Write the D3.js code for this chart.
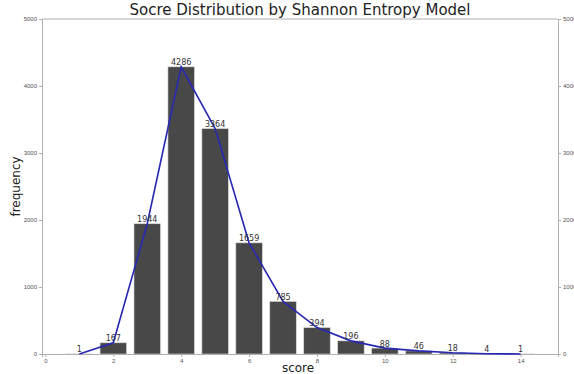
<!DOCTYPE html>
<html>
<head>
<meta charset="utf-8">
<script src="https://cdn.jsdelivr.net/npm/d3@7"></script>
<style>
  body { margin: 0; background: #fff; }
  svg { display: block; font-family: "DejaVu Sans", sans-serif; }
</style>
</head>
<body>
<div id="chart"></div>
<script>
// Data
const scores = [1, 2, 3, 4, 5, 6, 7, 8, 9, 10, 11, 12, 13, 14];
const frequencies = [1, 167, 1944, 4286, 3364, 1659, 785, 394, 196, 88, 46, 18, 4, 1];
const xTicks = [0, 2, 4, 6, 8, 10, 12, 14];
const yTicks = [0, 1000, 2000, 3000, 4000, 5000];

const width = 574, height = 374;
const margin = { top: 19, right: 16, bottom: 20, left: 42 };

const svg = d3.select('#chart')
  .append('svg')
  .attr('width', width)
  .attr('height', height);

const x = d3.scaleLinear()
  .domain([-0.1, 15.1])
  .range([margin.left, width - margin.right]);

const y = d3.scaleLinear()
  .domain([0, 5000])
  .range([height - margin.bottom, margin.top]);

const axisColor = '#b0b0b0';
const tickText = '#555';

// Bars
svg.append('g')
  .selectAll('rect')
  .data(scores)
  .enter().append('rect')
  .attr('x', (d) => x(d - 0.39))
  .attr('width', x(0.78) - x(0))
  .attr('y', (d, i) => y(frequencies[i]))
  .attr('height', (d, i) => y(0) - y(frequencies[i]))
  .attr('fill', '#484848')
  .attr('stroke', '#d8d8d8')
  .attr('stroke-width', 0.6);

// Axes
const bottomAxis = svg.append('g')
  .attr('transform', `translate(0,${y(0)})`)
  .call(d3.axisBottom(x).tickValues(xTicks).tickSize(3).tickPadding(2));

const leftAxis = svg.append('g')
  .attr('transform', `translate(${margin.left},0)`)
  .call(d3.axisLeft(y).tickValues(yTicks).tickSize(3).tickPadding(2).tickFormat(d3.format('d')));

const rightAxis = svg.append('g')
  .attr('transform', `translate(${width - margin.right},0)`)
  .call(d3.axisRight(y).tickValues(yTicks).tickSize(3).tickPadding(2).tickFormat(d3.format('d')));

// Top border
svg.append('line')
  .attr('x1', margin.left).attr('x2', width - margin.right)
  .attr('y1', margin.top).attr('y2', margin.top)
  .attr('stroke', axisColor);

[bottomAxis, leftAxis, rightAxis].forEach((g) => {
  g.select('.domain').attr('stroke', axisColor).attr('stroke-width', 1);
  g.selectAll('.tick line').attr('stroke', axisColor);
  g.selectAll('.tick text')
    .attr('fill', tickText)
    .attr('font-size', '6px');
});

// Line through bar tops
const line = d3.line()
  .x((d) => x(d))
  .y((d, i) => y(frequencies[i]));

svg.append('path')
  .datum(scores)
  .attr('d', line)
  .attr('fill', 'none')
  .attr('stroke', '#2828b4')
  .attr('stroke-width', 1.6);

// Value labels
svg.append('g')
  .selectAll('text')
  .data(scores)
  .enter().append('text')
  .attr('x', (d) => x(d))
  .attr('y', (d, i) => y(frequencies[i]) - 1.5)
  .attr('text-anchor', 'middle')
  .attr('font-size', '8px')
  .attr('fill', '#333')
  .text((d, i) => frequencies[i]);

// Title and axis labels
svg.append('text')
  .attr('x', (margin.left + width - margin.right) / 2)
  .attr('y', 15)
  .attr('text-anchor', 'middle')
  .attr('font-size', '15px')
  .attr('fill', '#222')
  .text('Socre Distribution by Shannon Entropy Model');

svg.append('text')
  .attr('x', 298)
  .attr('y', 372)
  .attr('text-anchor', 'middle')
  .attr('font-size', '12px')
  .attr('fill', '#222')
  .text('score');

svg.append('text')
  .attr('transform', `translate(20,${(margin.top + height - margin.bottom) / 2}) rotate(-90)`)
  .attr('text-anchor', 'middle')
  .attr('font-size', '12px')
  .attr('fill', '#222')
  .text('frequency');
</script>
</body>
</html>
